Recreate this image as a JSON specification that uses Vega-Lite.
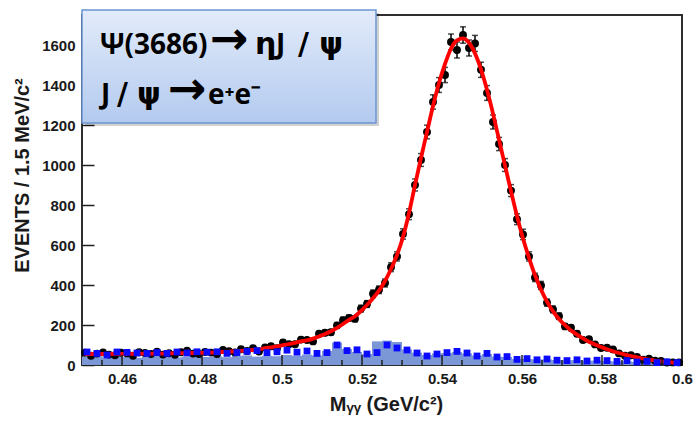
{
  "$schema": "https://vega.github.io/schema/vega-lite/v6.json",
  "width": 600,
  "height": 350,
  "autosize": "none",
  "padding": {"left": 82, "top": 15, "right": 13, "bottom": 57},
  "background": "white",
  "config": {
    "view": {"stroke": "#2e2e2e", "strokeWidth": 2},
    "axis": {
      "grid": false,
      "domain": false,
      "labelFont": "Liberation Sans",
      "labelFontWeight": "bold",
      "labelFontSize": 15,
      "labelColor": "#1a1a1a",
      "titleFont": "Liberation Sans",
      "titleFontWeight": "bold",
      "titleFontSize": 20,
      "titleColor": "#1a1a1a",
      "labelOverlap": false,
      "labelFlush": false,
      "labelBound": false
    }
  },
  "datasets": {
    "bins": [
      {"x":0.45075,"n":61,"e":8,"f":55},{"x":0.45225,"n":46,"e":7,"f":55},{"x":0.45375,"n":57,"e":8,"f":55},{"x":0.45525,"n":63,"e":8,"f":55},{"x":0.45675,"n":52,"e":7,"f":56},
      {"x":0.45825,"n":49,"e":7,"f":56},{"x":0.45975,"n":61,"e":8,"f":56},{"x":0.46125,"n":58,"e":8,"f":56},{"x":0.46275,"n":46,"e":7,"f":56},{"x":0.46425,"n":64,"e":8,"f":57},
      {"x":0.46575,"n":60,"e":8,"f":57},{"x":0.46725,"n":55,"e":7,"f":57},{"x":0.46875,"n":67,"e":8,"f":57},{"x":0.47025,"n":52,"e":7,"f":57},{"x":0.47175,"n":59,"e":8,"f":58},
      {"x":0.47325,"n":51,"e":7,"f":59},{"x":0.47475,"n":64,"e":8,"f":59},{"x":0.47625,"n":72,"e":8,"f":60},{"x":0.47775,"n":57,"e":8,"f":60},{"x":0.47925,"n":55,"e":7,"f":61},
      {"x":0.48075,"n":65,"e":8,"f":61},{"x":0.48225,"n":62,"e":8,"f":62},{"x":0.48375,"n":55,"e":7,"f":64},{"x":0.48525,"n":75,"e":9,"f":65},{"x":0.48675,"n":69,"e":8,"f":67},
      {"x":0.48825,"n":63,"e":8,"f":68},{"x":0.48975,"n":79,"e":9,"f":71},{"x":0.49125,"n":70,"e":8,"f":72},{"x":0.49275,"n":84,"e":9,"f":75},{"x":0.49425,"n":67,"e":8,"f":78},
      {"x":0.49575,"n":88,"e":9,"f":84},{"x":0.49725,"n":94,"e":10,"f":88},{"x":0.49875,"n":84,"e":9,"f":93},{"x":0.50025,"n":113,"e":11,"f":99},{"x":0.50175,"n":104,"e":10,"f":105},
      {"x":0.50325,"n":104,"e":10,"f":111},{"x":0.50475,"n":127,"e":11,"f":118},{"x":0.50625,"n":125,"e":11,"f":123},{"x":0.50775,"n":118,"e":11,"f":132},{"x":0.50925,"n":156,"e":12,"f":143},
      {"x":0.51075,"n":161,"e":13,"f":155},{"x":0.51225,"n":164,"e":13,"f":169},{"x":0.51375,"n":198,"e":14,"f":186},{"x":0.51525,"n":224,"e":15,"f":205},{"x":0.51675,"n":235,"e":15,"f":226},
      {"x":0.51825,"n":231,"e":15,"f":244},{"x":0.51975,"n":282,"e":17,"f":270},{"x":0.52125,"n":305,"e":17,"f":300},{"x":0.52275,"n":356,"e":19,"f":334},{"x":0.52425,"n":376,"e":19,"f":372},
      {"x":0.52575,"n":410,"e":20,"f":420},{"x":0.52725,"n":489,"e":22,"f":480},{"x":0.52875,"n":543,"e":23,"f":550},{"x":0.53025,"n":655,"e":26,"f":640},{"x":0.53175,"n":754,"e":27,"f":760},
      {"x":0.53325,"n":900,"e":30,"f":900},{"x":0.53475,"n":1025,"e":32,"f":1035},{"x":0.53625,"n":1165,"e":34,"f":1165},{"x":0.53775,"n":1315,"e":36,"f":1295},{"x":0.53925,"n":1400,"e":37,"f":1410},
      {"x":0.54075,"n":1450,"e":38,"f":1505},{"x":0.54225,"n":1615,"e":40,"f":1582},{"x":0.54375,"n":1575,"e":40,"f":1623},{"x":0.54525,"n":1650,"e":41,"f":1633},{"x":0.54675,"n":1585,"e":40,"f":1611},
      {"x":0.54825,"n":1608,"e":40,"f":1558},{"x":0.54975,"n":1476,"e":38,"f":1478},{"x":0.55125,"n":1360,"e":37,"f":1376},{"x":0.55275,"n":1215,"e":35,"f":1257},{"x":0.55425,"n":1105,"e":33,"f":1127},
      {"x":0.55575,"n":1000,"e":32,"f":998},{"x":0.55725,"n":872,"e":30,"f":869},{"x":0.55875,"n":729,"e":27,"f":745},{"x":0.56025,"n":653,"e":26,"f":633},{"x":0.56175,"n":543,"e":23,"f":536},
      {"x":0.56325,"n":438,"e":21,"f":449},{"x":0.56475,"n":398,"e":20,"f":377},{"x":0.56625,"n":312,"e":18,"f":317},{"x":0.56775,"n":278,"e":17,"f":268},{"x":0.56925,"n":244,"e":16,"f":230},
      {"x":0.57075,"n":193,"e":14,"f":199},{"x":0.57225,"n":186,"e":14,"f":173},{"x":0.57375,"n":156,"e":12,"f":152},{"x":0.57525,"n":125,"e":11,"f":133},{"x":0.57675,"n":129,"e":11,"f":116},
      {"x":0.57825,"n":103,"e":10,"f":102},{"x":0.57975,"n":85,"e":9,"f":90},{"x":0.58125,"n":86,"e":9,"f":79},{"x":0.58275,"n":78,"e":9,"f":69},{"x":0.58425,"n":58,"e":8,"f":60},
      {"x":0.58575,"n":46,"e":7,"f":52},{"x":0.58725,"n":49,"e":7,"f":45},{"x":0.58875,"n":40,"e":6,"f":38},{"x":0.59025,"n":26,"e":5,"f":32},{"x":0.59175,"n":31,"e":6,"f":27},
      {"x":0.59325,"n":21,"e":5,"f":22},{"x":0.59475,"n":20,"e":4,"f":18},{"x":0.59625,"n":12,"e":3,"f":15},{"x":0.59775,"n":13,"e":4,"f":12},{"x":0.59925,"n":13,"e":4,"f":10}
    ],
    "bkg": [
      {"x":0.45125,"x0":0.45,"x1":0.4525,"sq":65,"fill":40},{"x":0.45375,"x0":0.4525,"x1":0.455,"sq":58,"fill":42},{"x":0.45625,"x0":0.455,"x1":0.4575,"sq":50,"fill":38},
      {"x":0.45875,"x0":0.4575,"x1":0.46,"sq":65,"fill":44},{"x":0.46125,"x0":0.46,"x1":0.4625,"sq":63,"fill":40},{"x":0.46375,"x0":0.4625,"x1":0.465,"sq":60,"fill":36},
      {"x":0.46625,"x0":0.465,"x1":0.4675,"sq":58,"fill":42},{"x":0.46875,"x0":0.4675,"x1":0.47,"sq":62,"fill":45},{"x":0.47125,"x0":0.47,"x1":0.4725,"sq":58,"fill":40},
      {"x":0.47375,"x0":0.4725,"x1":0.475,"sq":65,"fill":38},{"x":0.47625,"x0":0.475,"x1":0.4775,"sq":60,"fill":42},{"x":0.47875,"x0":0.4775,"x1":0.48,"sq":66,"fill":44},
      {"x":0.48125,"x0":0.48,"x1":0.4825,"sq":64,"fill":40},{"x":0.48375,"x0":0.4825,"x1":0.485,"sq":66,"fill":43},{"x":0.48625,"x0":0.485,"x1":0.4875,"sq":58,"fill":39},
      {"x":0.48875,"x0":0.4875,"x1":0.49,"sq":62,"fill":45},{"x":0.49125,"x0":0.49,"x1":0.4925,"sq":68,"fill":48},{"x":0.49375,"x0":0.4925,"x1":0.495,"sq":72,"fill":42},
      {"x":0.49625,"x0":0.495,"x1":0.4975,"sq":62,"fill":46},{"x":0.49875,"x0":0.4975,"x1":0.5,"sq":66,"fill":44},{"x":0.50125,"x0":0.5,"x1":0.5025,"sq":74,"fill":50},
      {"x":0.50375,"x0":0.5025,"x1":0.505,"sq":64,"fill":46},{"x":0.50625,"x0":0.505,"x1":0.5075,"sq":70,"fill":52},{"x":0.50875,"x0":0.5075,"x1":0.51,"sq":58,"fill":48},
      {"x":0.51125,"x0":0.51,"x1":0.5125,"sq":62,"fill":70},{"x":0.51375,"x0":0.5125,"x1":0.515,"sq":100,"fill":112},{"x":0.51625,"x0":0.515,"x1":0.5175,"sq":72,"fill":80},
      {"x":0.51875,"x0":0.5175,"x1":0.52,"sq":76,"fill":65},{"x":0.52125,"x0":0.52,"x1":0.5225,"sq":55,"fill":55},{"x":0.52375,"x0":0.5225,"x1":0.525,"sq":62,"fill":118},
      {"x":0.52625,"x0":0.525,"x1":0.5275,"sq":100,"fill":122},{"x":0.52875,"x0":0.5275,"x1":0.53,"sq":85,"fill":115},{"x":0.53125,"x0":0.53,"x1":0.5325,"sq":75,"fill":78},
      {"x":0.53375,"x0":0.5325,"x1":0.535,"sq":60,"fill":62},{"x":0.53625,"x0":0.535,"x1":0.5375,"sq":45,"fill":50},{"x":0.53875,"x0":0.5375,"x1":0.54,"sq":55,"fill":58},
      {"x":0.54125,"x0":0.54,"x1":0.5425,"sq":62,"fill":60},{"x":0.54375,"x0":0.5425,"x1":0.545,"sq":68,"fill":65},{"x":0.54625,"x0":0.545,"x1":0.5475,"sq":60,"fill":58},
      {"x":0.54875,"x0":0.5475,"x1":0.55,"sq":45,"fill":48},{"x":0.55125,"x0":0.55,"x1":0.5525,"sq":58,"fill":55},{"x":0.55375,"x0":0.5525,"x1":0.555,"sq":40,"fill":42},
      {"x":0.55625,"x0":0.555,"x1":0.5575,"sq":42,"fill":40},{"x":0.55875,"x0":0.5575,"x1":0.56,"sq":28,"fill":30},{"x":0.56125,"x0":0.56,"x1":0.5625,"sq":32,"fill":30},
      {"x":0.56375,"x0":0.5625,"x1":0.565,"sq":26,"fill":28},{"x":0.56625,"x0":0.565,"x1":0.5675,"sq":30,"fill":28},{"x":0.56875,"x0":0.5675,"x1":0.57,"sq":24,"fill":25},
      {"x":0.57125,"x0":0.57,"x1":0.5725,"sq":22,"fill":24},{"x":0.57375,"x0":0.5725,"x1":0.575,"sq":26,"fill":25},{"x":0.57625,"x0":0.575,"x1":0.5775,"sq":20,"fill":22},
      {"x":0.57875,"x0":0.5775,"x1":0.58,"sq":24,"fill":22},{"x":0.58125,"x0":0.58,"x1":0.5825,"sq":22,"fill":20},{"x":0.58375,"x0":0.5825,"x1":0.585,"sq":18,"fill":18},
      {"x":0.58625,"x0":0.585,"x1":0.5875,"sq":22,"fill":18},{"x":0.58875,"x0":0.5875,"x1":0.59,"sq":15,"fill":16},{"x":0.59125,"x0":0.59,"x1":0.5925,"sq":18,"fill":15},
      {"x":0.59375,"x0":0.5925,"x1":0.595,"sq":12,"fill":14},{"x":0.59625,"x0":0.595,"x1":0.5975,"sq":16,"fill":12},{"x":0.59875,"x0":0.5975,"x1":0.6,"sq":12,"fill":12}
    ],
    "xticks": [
      {"v":0.455,"k":"minor"},{"v":0.46,"k":"major"},{"v":0.465,"k":"minor"},{"v":0.47,"k":"minor"},{"v":0.475,"k":"minor"},
      {"v":0.48,"k":"major"},{"v":0.485,"k":"minor"},{"v":0.49,"k":"minor"},{"v":0.495,"k":"minor"},{"v":0.5,"k":"major"},
      {"v":0.505,"k":"minor"},{"v":0.51,"k":"minor"},{"v":0.515,"k":"minor"},{"v":0.52,"k":"major"},{"v":0.525,"k":"minor"},
      {"v":0.53,"k":"minor"},{"v":0.535,"k":"minor"},{"v":0.54,"k":"major"},{"v":0.545,"k":"minor"},{"v":0.55,"k":"minor"},
      {"v":0.555,"k":"minor"},{"v":0.56,"k":"major"},{"v":0.565,"k":"minor"},{"v":0.57,"k":"minor"},{"v":0.575,"k":"minor"},
      {"v":0.58,"k":"major"},{"v":0.585,"k":"minor"},{"v":0.59,"k":"minor"},{"v":0.595,"k":"minor"}
    ],
    "box": [{"x0": 0.45, "x1": 0.5235, "y0": 1210, "y1": 1775}],
    "label": [
      {"x": 0.4545, "y": 1555, "t": "Ψ(3686)", "part": "text"},
      {"x": 0.482, "y": 1555, "t": "→", "part": "arrow"},
      {"x": 0.49325, "y": 1555, "t": "η", "part": "greek"},
      {"x": 0.4985, "y": 1555, "t": "J", "part": "text"},
      {"x": 0.504, "y": 1555, "t": "/", "part": "greek"},
      {"x": 0.5093, "y": 1555, "t": "ψ", "part": "greek"},
      {"x": 0.45475, "y": 1305, "t": "J", "part": "text"},
      {"x": 0.45875, "y": 1305, "t": "/", "part": "greek"},
      {"x": 0.46375, "y": 1305, "t": "ψ", "part": "greek"},
      {"x": 0.4715, "y": 1305, "t": "→", "part": "arrow"},
      {"x": 0.4815, "y": 1305, "t": "e⁺e⁻", "part": "text"}
    ]
  },
  "layer": [
    {
      "data": {"name": "bkg"},
      "mark": {"type": "rect", "color": "#7b97d6"},
      "encoding": {
        "x": {
          "field": "x0", "type": "quantitative", "title": "Mᵧᵧ (GeV/c²)",
          "scale": {"domain": [0.45, 0.6], "nice": false, "zero": false},
          "axis": {
            "values": [0.46, 0.48, 0.5, 0.52, 0.54, 0.56, 0.58, 0.6],
            "format": ".2~f",
            "ticks": false,
            "labelPadding": 6,
            "titleX": 304,
            "titleY": 45,
            "titleBaseline": "alphabetic",
            "titleAlign": "center"
          }
        },
        "x2": {"field": "x1"},
        "y": {
          "field": "fill", "type": "quantitative", "title": "EVENTS / 1.5 MeV/c²",
          "scale": {"domain": [0, 1750], "nice": false},
          "axis": {
            "values": [0,50,100,150,200,250,300,350,400,450,500,550,600,650,700,750,800,850,900,950,1000,1050,1100,1150,1200,1250,1300,1350,1400,1450,1500,1550,1600,1650,1700],
            "labelExpr": "datum.value % 200 === 0 ? format(datum.value, 'd') : ''",
            "ticks": true,
            "tickSize": 12,
            "tickWidth": 1.5,
            "tickColor": "#1e1e1e",
            "tickOpacity": 1,
            "offset": -12,
            "labelPadding": 7,
            "titleX": -66,
            "titleY": 160,
            "titleAngle": 270,
            "titleBaseline": "alphabetic",
            "titleAlign": "center"
          }
        },
        "y2": {"datum": 0}
      }
    },
    {
      "data": {"name": "bins"},
      "mark": {"type": "errorbar", "color": "#000000", "thickness": 1.5, "ticks": {"size": 6, "thickness": 1.5}},
      "encoding": {
        "x": {"field": "x", "type": "quantitative", "title": "Mᵧᵧ (GeV/c²)"},
        "y": {"field": "n", "type": "quantitative", "title": "EVENTS / 1.5 MeV/c²"},
        "yError": {"field": "e"}
      }
    },
    {
      "data": {"name": "bins"},
      "mark": {"type": "point", "shape": "circle", "filled": true, "color": "#000000", "opacity": 1, "size": 62},
      "encoding": {
        "x": {"field": "x", "type": "quantitative", "title": "Mᵧᵧ (GeV/c²)"},
        "y": {"field": "n", "type": "quantitative", "title": "EVENTS / 1.5 MeV/c²"}
      }
    },
    {
      "data": {"name": "bins"},
      "mark": {"type": "line", "color": "#ff0000", "strokeWidth": 3.8, "interpolate": "monotone"},
      "encoding": {
        "x": {"field": "x", "type": "quantitative", "title": "Mᵧᵧ (GeV/c²)"},
        "y": {"field": "f", "type": "quantitative", "title": "EVENTS / 1.5 MeV/c²"}
      }
    },
    {
      "data": {"name": "bkg"},
      "mark": {"type": "point", "shape": "square", "filled": true, "color": "#0a0aff", "opacity": 1, "size": 46},
      "encoding": {
        "x": {"field": "x", "type": "quantitative", "title": "Mᵧᵧ (GeV/c²)"},
        "y": {"field": "sq", "type": "quantitative", "title": "EVENTS / 1.5 MeV/c²"}
      }
    },
    {
      "data": {"name": "xticks"},
      "transform": [{"filter": "datum.k === 'major'"}],
      "mark": {"type": "rule", "color": "#1e1e1e", "strokeWidth": 1.5},
      "encoding": {
        "x": {"field": "v", "type": "quantitative", "title": "Mᵧᵧ (GeV/c²)"},
        "y": {"datum": 0, "type": "quantitative", "title": "EVENTS / 1.5 MeV/c²"},
        "y2": {"datum": 50}
      }
    },
    {
      "data": {"name": "xticks"},
      "transform": [{"filter": "datum.k === 'minor'"}],
      "mark": {"type": "rule", "color": "#1e1e1e", "strokeWidth": 1.5},
      "encoding": {
        "x": {"field": "v", "type": "quantitative", "title": "Mᵧᵧ (GeV/c²)"},
        "y": {"datum": 0, "type": "quantitative", "title": "EVENTS / 1.5 MeV/c²"},
        "y2": {"datum": 25}
      }
    },
    {
      "data": {"name": "box"},
      "mark": {"type": "rect", "color": "#000000", "opacity": 0.18, "xOffset": 3, "x2Offset": 3, "yOffset": 3, "y2Offset": 3},
      "encoding": {
        "x": {"field": "x0", "type": "quantitative", "title": "Mᵧᵧ (GeV/c²)"},
        "x2": {"field": "x1"},
        "y": {"field": "y0", "type": "quantitative", "title": "EVENTS / 1.5 MeV/c²"},
        "y2": {"field": "y1"}
      }
    },
    {
      "data": {"name": "box"},
      "mark": {
        "type": "rect",
        "fill": {"gradient": "linear", "x1": 0, "y1": 0, "x2": 0, "y2": 1, "stops": [{"offset": 0, "color": "#e2ebfa"}, {"offset": 1, "color": "#b3caef"}]},
        "stroke": "#6b95d2",
        "strokeWidth": 1.5
      },
      "encoding": {
        "x": {"field": "x0", "type": "quantitative", "title": "Mᵧᵧ (GeV/c²)"},
        "x2": {"field": "x1"},
        "y": {"field": "y0", "type": "quantitative", "title": "EVENTS / 1.5 MeV/c²"},
        "y2": {"field": "y1"}
      }
    },
    {
      "data": {"name": "label"},
      "transform": [{"filter": "datum.part === 'text'"}],
      "mark": {"type": "text", "align": "left", "baseline": "alphabetic", "font": "Open Sans", "fontWeight": "bold", "fontSize": 28, "color": "#000000"},
      "encoding": {
        "x": {"field": "x", "type": "quantitative", "title": "Mᵧᵧ (GeV/c²)"},
        "y": {"field": "y", "type": "quantitative", "title": "EVENTS / 1.5 MeV/c²"},
        "text": {"field": "t"}
      }
    },
    {
      "data": {"name": "label"},
      "transform": [{"filter": "datum.part === 'greek'"}],
      "mark": {"type": "text", "align": "left", "baseline": "alphabetic", "font": "DejaVu Sans", "fontWeight": "bold", "fontSize": 30, "color": "#000000"},
      "encoding": {
        "x": {"field": "x", "type": "quantitative", "title": "Mᵧᵧ (GeV/c²)"},
        "y": {"field": "y", "type": "quantitative", "title": "EVENTS / 1.5 MeV/c²"},
        "text": {"field": "t"}
      }
    },
    {
      "data": {"name": "label"},
      "transform": [{"filter": "datum.part === 'arrow'"}],
      "mark": {"type": "text", "align": "left", "baseline": "alphabetic", "font": "DejaVu Sans", "fontWeight": "bold", "fontSize": 46, "color": "#000000"},
      "encoding": {
        "x": {"field": "x", "type": "quantitative", "title": "Mᵧᵧ (GeV/c²)"},
        "y": {"field": "y", "type": "quantitative", "title": "EVENTS / 1.5 MeV/c²"},
        "text": {"field": "t"}
      }
    }
  ]
}
